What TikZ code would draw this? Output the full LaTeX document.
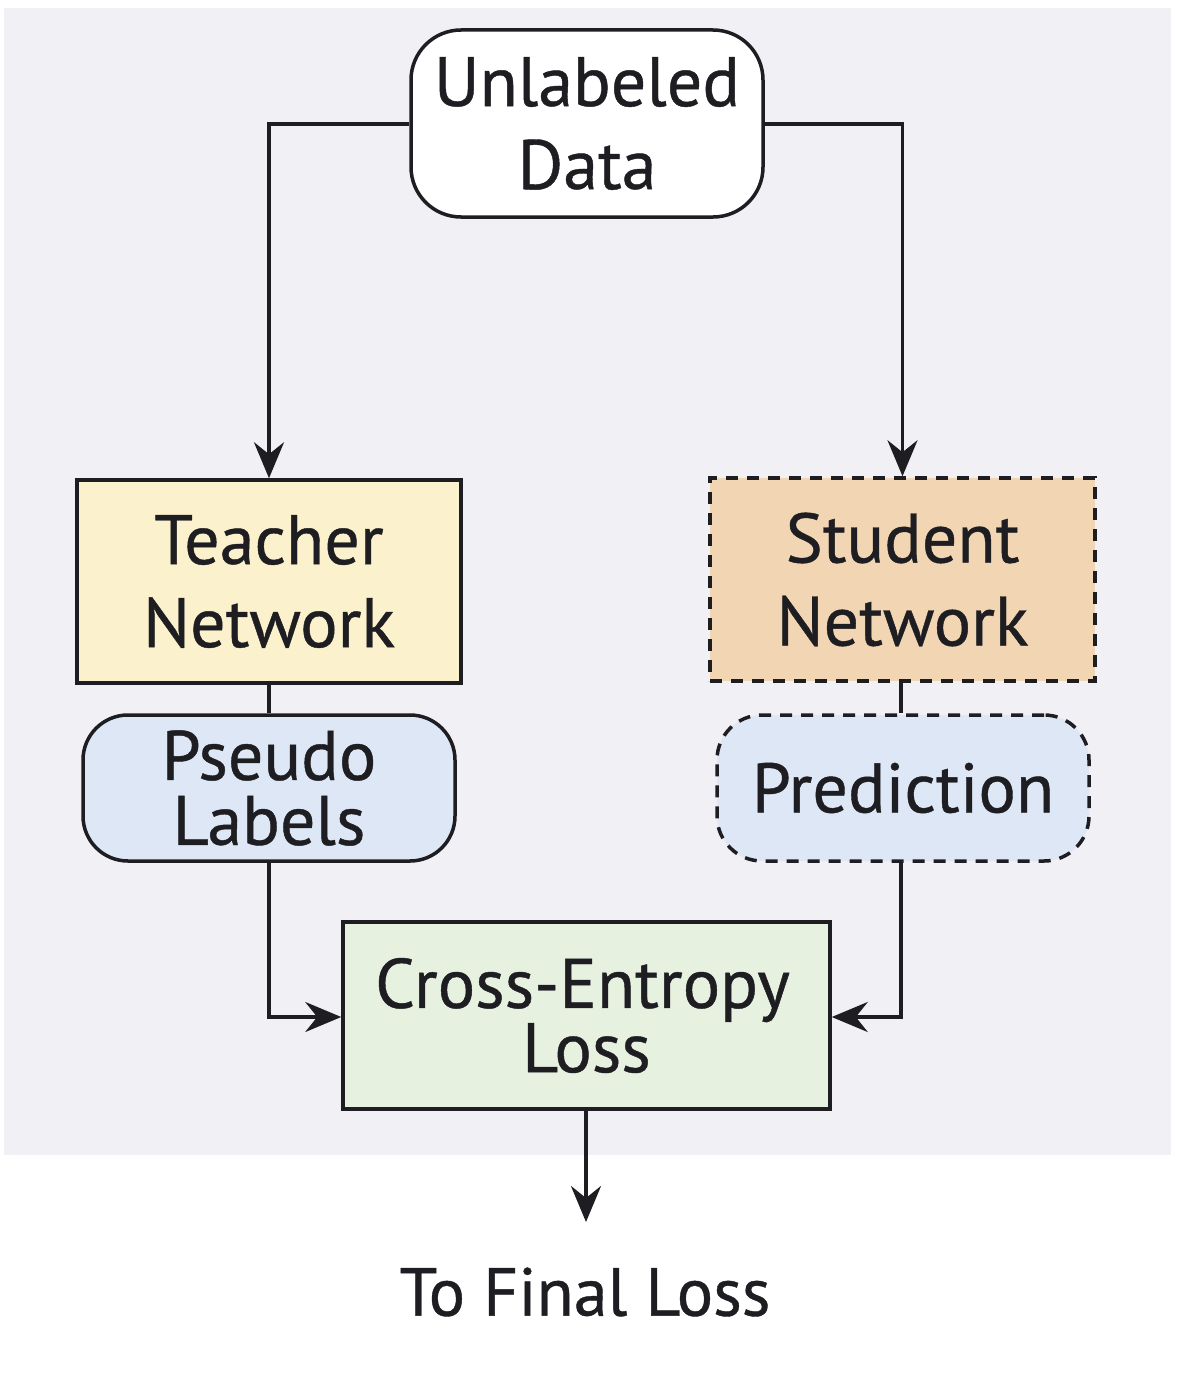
\documentclass[tikz,border=0pt]{standalone}
\usepackage{fontspec}
\setmainfont{PT Sans}[FakeBold=0.6]
\usetikzlibrary{arrows.meta}
\definecolor{bgc}{HTML}{F0F0F5}
\definecolor{teachc}{HTML}{FBF1CC}
\definecolor{studc}{HTML}{F2D6B3}
\definecolor{bluec}{HTML}{DDE7F5}
\definecolor{greenc}{HTML}{E7F1DF}
\definecolor{inkc}{HTML}{1E1E22}
\tikzset{
  box/.style={draw=inkc, line width=3.5pt, text=inkc, inner sep=0pt, align=center,
    font=\fontsize{70}{83}\selectfont},
  dashbox/.style={box, dash pattern=on 12pt off 9pt},
  conn/.style={draw=inkc, line width=3.5pt},
  arr/.style={conn, -{Stealth[length=36pt, width=30pt, inset=12pt]}},
}
\begin{document}
\begin{tikzpicture}[x=1pt, y=-1pt]
\useasboundingbox (0,0) rectangle (1181,1389);
\fill[white] (0,0) rectangle (1181,1389);
\fill[bgc] (4,8) rectangle (1171,1155);

\node[box, fill=white, rounded corners=50pt, minimum width=352pt, minimum height=187pt] (ud) at (587,123.5) {Unlabeled\\Data};
\node[box, fill=teachc, minimum width=384pt, minimum height=203pt] (tn) at (269,581.5) {Teacher\\Network};
\node[dashbox, fill=studc, minimum width=385pt, minimum height=203pt] (sn) at (902.5,579.5) {Student\\Network};
\node[box, fill=bluec, rounded corners=45pt, minimum width=372pt, minimum height=146pt, font=\fontsize{70}{65}\selectfont] (pl) at (269,788) {Pseudo\\Labels};
\node[dashbox, fill=bluec, rounded corners=45pt, minimum width=372pt, minimum height=146pt] (pr) at (903,788) {Prediction};
\node[box, fill=greenc, minimum width=487pt, minimum height=187pt, font=\fontsize{70}{56}\selectfont] (ce) at (586.5,1015.5) {\hspace*{-8pt}Cross-Entropy\\Loss};
\node[text=inkc, inner sep=0pt, font=\fontsize{68}{80}\selectfont] (fl) at (585,1292) {To Final Loss};
\coordinate (flend) at (586,1222);

\draw[arr] (ud.west |- 0,124) -| (tn.north);
\draw[arr] (ud.east |- 0,124) -| (sn.north);
\draw[conn] (tn.south) -- (pl.north);
\draw[conn] (sn.south -| 901,0) -- (pr.north -| 901,0);
\draw[arr] (pl.south) |- (ce.west |- 0,1017);
\draw[arr] (pr.south -| 901,0) |- (ce.east |- 0,1017);
\draw[arr] (ce.south -| flend) -- (flend);
\end{tikzpicture}
\end{document}
